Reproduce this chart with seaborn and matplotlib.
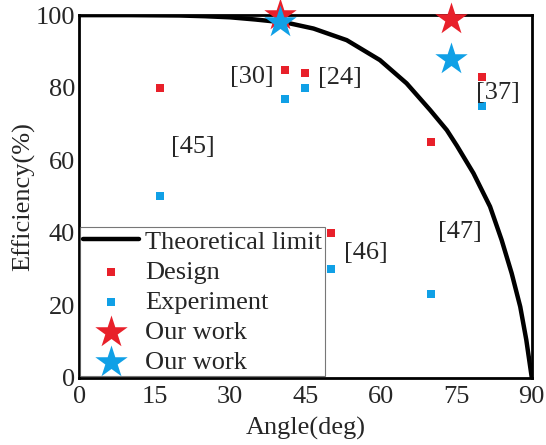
import matplotlib
matplotlib.use("Agg")
import matplotlib.pyplot as plt
import seaborn as sns
from matplotlib.ticker import MultipleLocator

# theoretical limit curve
limit_angle = [0, 10, 20, 25, 30, 35, 41.3, 46.6, 53.2, 59.8, 65.1, 69.8, 73.1, 75.1,
               78.4, 81.7, 84.0, 86.0, 87.7, 88.9, 90]
limit_eff = [100, 100, 99.9, 99.7, 99.4, 98.8, 97.9, 96.3, 93.1, 87.6, 81.2, 73.8, 68.3,
             64.0, 56.4, 47.2, 38.0, 28.8, 19.6, 10.5, 0]

design_angle = [16, 41, 45, 50, 70, 80]
design_eff = [80, 85, 84, 40, 65, 83]
exp_angle = [16, 41, 45, 50, 70, 80]
exp_eff = [50, 77, 80, 30, 23, 75]

ours_design_angle = [40, 74]
ours_design_eff = [100, 99]
ours_exp_angle = [40, 74]
ours_exp_eff = [98, 88]

refs = ["[30]", "[24]", "[37]", "[45]", "[46]", "[47]"]
ref_x = [34.4, 51.9, 83.3, 22.7, 57.0, 75.7]
ref_y = [83, 82.6, 78.5, 63.6, 34.4, 40.2]

RED = "#E8202A"
BLUE = "#10A0E6"
FS = 19

sns.set_style("white")
plt.rcParams["font.family"] = ["Liberation Serif", "DejaVu Serif"]

fig = plt.figure(figsize=(5.46, 4.45), dpi=100)
ax = fig.add_axes([0.145, 0.151, 0.829, 0.815])

sns.lineplot(x=limit_angle, y=limit_eff, color="black", lw=3.2, ax=ax,
             label="Theoretical limit")
sns.scatterplot(x=design_angle, y=design_eff, marker="s", color=RED, s=32,
                linewidth=0, ax=ax, label="Design")
sns.scatterplot(x=exp_angle, y=exp_eff, marker="s", color=BLUE, s=32,
                linewidth=0, ax=ax, label="Experiment")
sns.scatterplot(x=ours_design_angle, y=ours_design_eff, marker="*", color=RED, s=600,
                linewidth=0, ax=ax, label="Our work", clip_on=False, zorder=5)
sns.scatterplot(x=ours_exp_angle, y=ours_exp_eff, marker="*", color=BLUE, s=600,
                linewidth=0, ax=ax, label="Our work", clip_on=False, zorder=6)

for t, x, y in zip(refs, ref_x, ref_y):
    ax.text(x, y, t, fontsize=FS, ha="center", va="center")

ax.set_xlim(0, 90)
ax.set_ylim(0, 100)
ax.xaxis.set_major_locator(MultipleLocator(15))
ax.xaxis.set_minor_locator(MultipleLocator(7.5))
ax.yaxis.set_major_locator(MultipleLocator(20))
ax.yaxis.set_minor_locator(MultipleLocator(10))
ax.tick_params(which="both", direction="in", width=1.5, labelsize=FS, color="black", pad=3)
ax.tick_params(axis="x", which="both", pad=6)
ax.tick_params(which="major", length=6)
ax.tick_params(which="minor", length=3)
for sp in ax.spines.values():
    sp.set_linewidth(2)
    sp.set_color("black")

ax.set_xlabel("Angle(deg)", fontsize=FS, labelpad=6)
ax.set_ylabel("Efficiency(%)", fontsize=FS, labelpad=0)

leg = ax.legend(loc="lower left", bbox_to_anchor=(0.0, 0.0), fontsize=FS,
                frameon=True, fancybox=False, borderpad=0.1, labelspacing=0.25,
                handlelength=2.1, handletextpad=0.25, borderaxespad=0.05)
leg.get_frame().set_edgecolor("#555555")
leg.get_frame().set_linewidth(0.8)
for h in leg.legend_handles[3:]:
    h.set_sizes([600])

fig.savefig("out.png", dpi=100)
